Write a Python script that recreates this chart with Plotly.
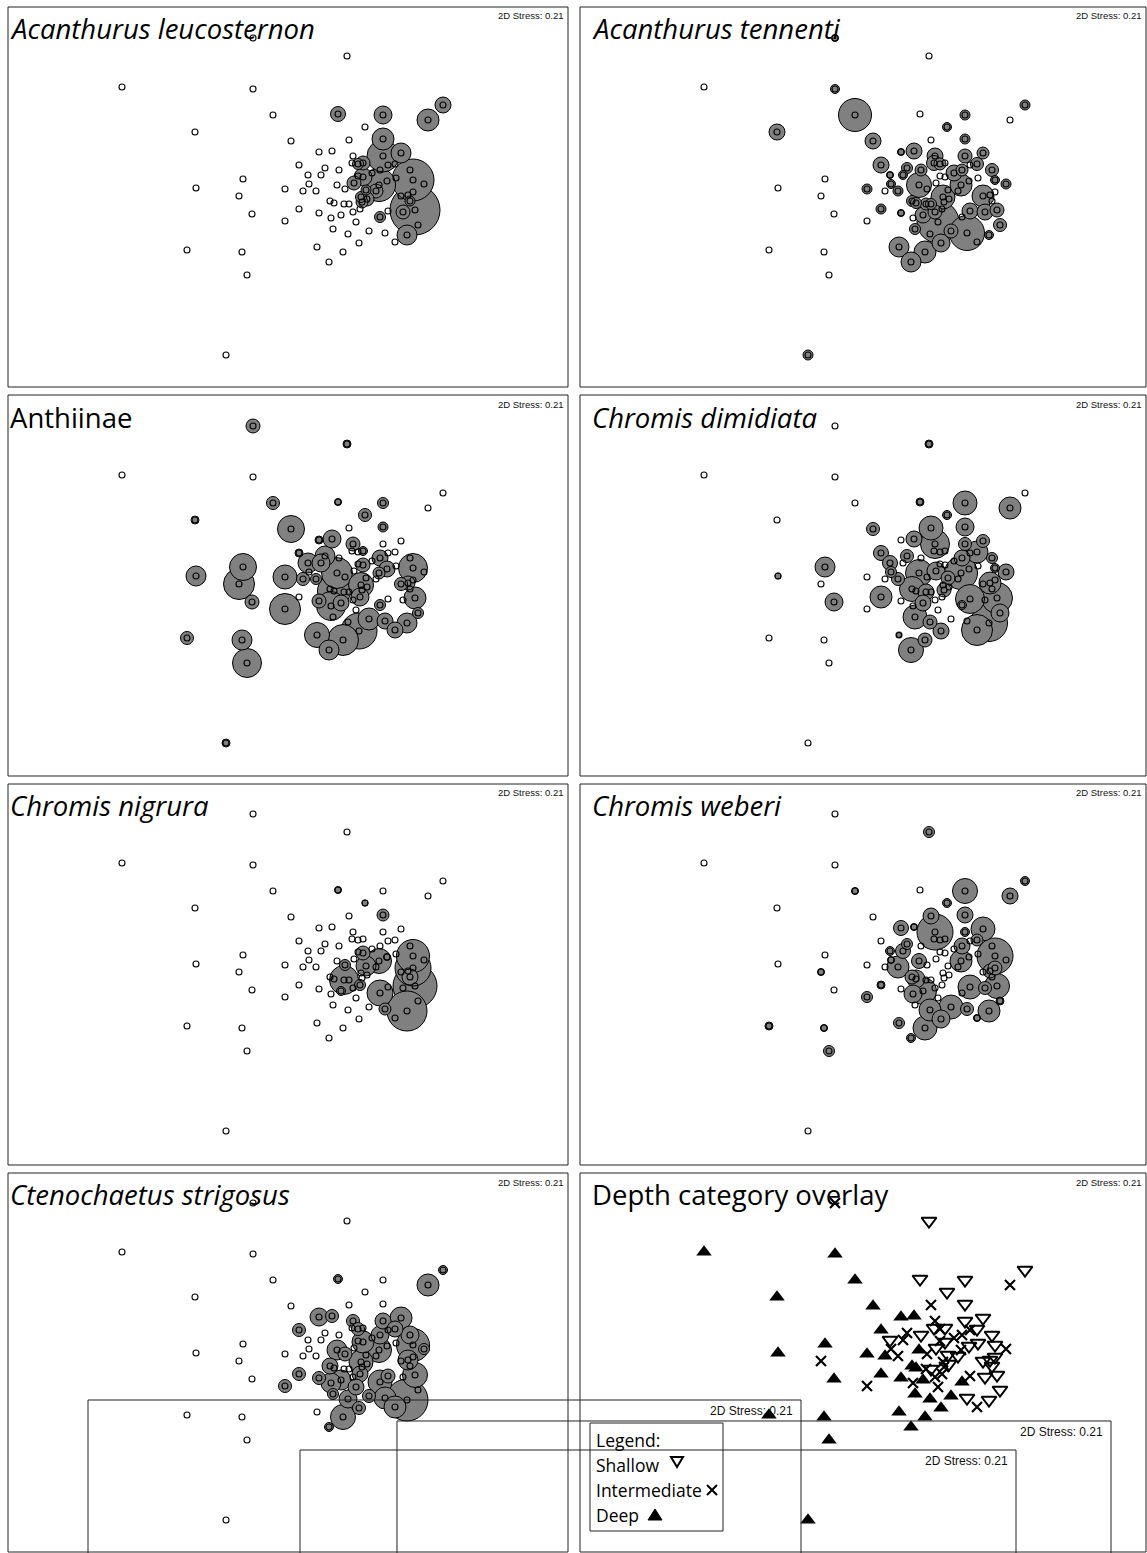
import plotly.graph_objects as go

W, H = 1147, 1553

# ---- MDS configuration (same for every panel), sites 1..90 ----
site_x = [-0.67, 0.27, -1.98, -0.67, 0.18, 0.63, 1.23, 1.08, -0.47, -1.25,
          0.45, -0.29, 0.29, 0.63, -0.01, 0.12, 0.63, 0.81, 0.33, -0.21,
          0.05, 0.32, 0.38, 0.43, 0.60, 0.68, 0.75, 0.90, -0.12, 0.01,
          0.19, 0.38, 0.43, 0.52, -0.77, -1.24, -0.81, -0.35, -0.17, -0.11,
          -0.04, 0.17, 0.25, 0.34, 0.59, 0.67, 0.76, 0.93, 1.04, 0.46,
          0.56, 0.88, 0.93, 0.41, 0.81, 0.10, 0.14, 0.24, 0.29, 0.42,
          0.47, 0.90, 0.95, 0.40, 0.33, 0.68, 0.83, -0.68, -0.21, -0.01,
          0.21, 0.11, 0.60, -0.35, 0.36, 0.98, 0.13, 0.28, 0.49, 0.65,
          0.87, 0.75, 0.39, -1.33, -0.78, -0.03, 0.23, 0.09, -0.73, -0.94]
site_y = [1.52, 1.34, 1.03, 1.01, 0.76, 0.75, 0.85, 0.70, 0.75, 0.58,
          0.63, 0.49, 0.50, 0.51, 0.38, 0.39, 0.34, 0.37, 0.34, 0.25,
          0.22, 0.27, 0.26, 0.27, 0.20, 0.25, 0.26, 0.20, 0.15, 0.15,
          0.20, 0.14, 0.13, 0.17, 0.11, 0.02, -0.06, 0.01, -0.01, 0.06,
          -0.01, 0.05, 0.01, 0.07, 0.05, 0.09, 0.12, 0.10, 0.06, 0.00,
          -0.01, -0.05, -0.02, -0.07, -0.06, -0.11, -0.13, -0.14, -0.14, -0.12,
          -0.09, -0.11, -0.20, -0.19, -0.22, -0.21, -0.22, -0.24, -0.19, -0.23,
          -0.25, -0.28, -0.27, -0.31, -0.32, -0.35, -0.39, -0.44, -0.41, -0.43,
          -0.45, -0.52, -0.53, -0.60, -0.62, -0.57, -0.62, -0.72, -0.85, -1.65]
depth = ["I", "S", "D", "D", "S", "S", "S", "I", "D", "D",
         "S", "D", "I", "S", "D", "D", "S", "S", "I", "D",
         "I", "S", "I", "S", "I", "I", "S", "S", "S", "I",
         "S", "I", "S", "I", "D", "D", "I", "D", "D", "I",
         "I", "D", "I", "S", "I", "S", "S", "S", "I", "S",
         "S", "S", "S", "I", "S", "D", "D", "I", "S", "I",
         "S", "S", "S", "I", "I", "I", "S", "D", "D", "D",
         "D", "I", "D", "I", "I", "S", "D", "D", "D", "S",
         "S", "I", "D", "D", "D", "D", "D", "D", "D", "D"]

# ---- species abundances (site number, abundance) ----
leuco_sites = [5, 6, 7, 8, 14, 17, 18, 23, 24, 33, 44, 45, 48, 50, 51, 54, 60, 61, 62, 63, 67, 73, 81]
leuco_abund = [7.5, 9, 8, 11, 11, 16, 10, 5.5, 7, 9, 7, 16.5, 21, 5, 7, 5.5, 6, 7, 5, 25, 7, 5.5, 10]

tenn_sites = [1, 4, 6, 7, 9, 10, 11, 12, 14, 15, 16, 17, 18, 19, 20, 21, 22, 23, 25, 27, 28, 29, 30, 31, 34,
              38, 40, 41, 42, 45, 48, 49, 54, 55, 56, 57, 58, 59, 63, 65, 66, 67, 69, 70, 71, 75, 76, 77,
              79, 80, 81, 83, 86, 87, 88, 90]
tenn_abund = [3.5, 4.5, 5, 5, 16.5, 8, 4.5, 8, 5, 3.5, 8, 7, 6, 8, 8, 5.5, 7.5, 6, 6, 6.5, 6.5, 3.5, 4.5, 6, 8,
              5, 4.5, 5, 12.5, 11, 4.5, 5, 12, 11, 5.5, 5.5, 6, 5.5, 7, 7, 8, 8, 5, 3.5, 8, 21, 6.5, 5.5,
              7, 17.5, 4.5, 9, 10, 11, 10, 5]

anth_sites = [1, 2, 5, 6, 9, 10, 11, 12, 14, 15, 16, 19, 20, 21, 24, 25, 29, 30, 33, 35, 36, 37, 38, 39, 41,
              42, 45, 46, 48, 52, 54, 55, 57, 63, 64, 68, 70, 71, 72, 73, 74, 76, 79, 80, 81, 82, 83, 84,
              85, 86, 87, 88, 89, 90]
anth_abund = [7, 4, 3.5, 5.5, 6.5, 4, 6.5, 13.5, 5, 4, 9, 7, 4, 10, 4.5, 8, 10, 9, 7, 13.5, 10, 15.5, 12, 6.5,
              5.5, 15.5, 6, 8, 14.5, 7, 12.5, 6.5, 16.5, 11, 9, 7, 7, 8, 14.5, 5.5, 15.5, 5.5, 11, 8, 10,
              8, 18, 6.5, 10, 12.5, 15.5, 10, 14.5, 4]

dimi_sites = [2, 5, 6, 8, 11, 12, 13, 14, 16, 17, 18, 19, 20, 21, 25, 27, 28, 29, 35, 36, 40, 41, 42, 44, 45,
              48, 49, 50, 52, 56, 58, 60, 63, 66, 68, 69, 71, 73, 76, 77, 78, 81, 82, 83, 86, 87, 88]
dimi_abund = [4, 4, 12, 11, 4.5, 6.5, 12, 9, 8, 6.5, 6.5, 14.5, 7.5, 6.5, 8, 11, 5.5, 7.5, 10, 3, 5.5, 6.5,
              13.5, 9, 16.5, 4.5, 8, 7, 11, 12.5, 8, 7, 15.5, 14.5, 9, 11, 8, 4.5, 9, 12, 7, 18.5, 15.5,
              8, 2.5, 7, 12.5]

nigr_sites = [5, 11, 14, 33, 43, 45, 46, 48, 50, 53, 58, 62, 63, 64, 71, 73, 80, 81]
nigr_abund = [3.5, 3, 6, 7, 5.5, 12.5, 3.5, 16.5, 10, 18, 14.5, 8, 22, 5.5, 4.5, 13, 6, 20]

webe_sites = [2, 6, 7, 8, 9, 11, 13, 14, 15, 16, 17, 18, 19, 21, 25, 27, 29, 30, 37, 40, 41, 42, 45, 48, 52,
              53, 56, 57, 63, 66, 67, 69, 71, 72, 74, 76, 78, 79, 80, 81, 82, 83, 84, 85, 86, 87, 88, 89]
webe_abund = [5.5, 12.5, 4.5, 8, 3.5, 4.5, 8, 8, 7.5, 3.5, 4.5, 12, 18, 5.5, 8, 6, 4.5, 7.5, 3.5, 3.5, 11,
              7.5, 11, 18, 7, 7, 7, 9, 12.5, 12, 6.5, 4, 13.5, 9, 5.5, 4, 11, 12, 6.5, 11, 3.5, 9, 4, 3.5,
              5.5, 12, 4.5, 5.5]

stri_sites = [5, 7, 8, 15, 16, 17, 18, 19, 20, 23, 25, 27, 28, 33, 42, 43, 45, 48, 49, 52, 54, 56, 63, 64,
              66, 69, 70, 71, 72, 73, 74, 75, 77, 78, 79, 80, 81, 82, 83, 87, 88]
stri_abund = [4.5, 4.5, 11, 9, 6.5, 8, 11, 6.5, 6.5, 6.5, 9, 8, 9, 11, 10, 7, 12.5, 16.5, 5.5, 10, 12, 8,
              12.5, 8, 7, 6.5, 6.5, 10, 10, 12, 6.5, 8, 5.5, 9, 6.5, 11, 21, 11, 6.5, 12.5, 4.5]

panel_titles = ["Acanthurus leucosternon", "Acanthurus tennenti", "Anthiinae", "Chromis dimidiata",
                "Chromis nigrura", "Chromis weberi", "Ctenochaetus strigosus", "Depth category overlay"]
panel_italic = [True, True, False, True, True, True, True, False]
species_data = [(leuco_sites, leuco_abund), (tenn_sites, tenn_abund), (anth_sites, anth_abund),
                (dimi_sites, dimi_abund), (nigr_sites, nigr_abund), (webe_sites, webe_abund),
                (stri_sites, stri_abund)]
stress_text = "2D Stress: 0.21"
legend_title = "Legend:"
legend_labels = ["Shallow", "Intermediate", "Deep"]

# ---------------- layout helpers ----------------
col_off = [0, 582]
row_off = [0, 388, 776, 1165]
frame_x = [(8, 568), (580, 1146)]
frame_y = [(7, 387), (395, 776), (784, 1165), (1173, 1552)]
XR = [-3.12, 2.45]
YR = [-1.90, 1.82]
TITLE_FONT = "Open Sans"


def px(v):
    return v / W


def py(v):
    return 1 - v / H


fig = go.Figure()
shapes = []
annotations = []
LINE = "#222222"

for i in range(8):
    c, r = i % 2, i // 2
    ox, oy = col_off[c], row_off[r]
    sfx = "" if i == 0 else str(i + 1)
    fig.update_layout(**{
        "xaxis" + sfx: dict(domain=[px(ox + 8), min(1.0, px(ox + 565))], range=XR, visible=False,
                            anchor="y" + sfx, fixedrange=True),
        "yaxis" + sfx: dict(domain=[py(oy + 380), py(oy + 8)], range=YR, visible=False,
                            anchor="x" + sfx, fixedrange=True),
    })
    xa, ya = "x" + sfx, "y" + sfx

    if i < 7:
        sites, abund = species_data[i]
        order = sorted(range(len(sites)), key=lambda k: -abund[k])
        fig.add_trace(go.Scatter(
            x=[site_x[sites[k] - 1] for k in order],
            y=[site_y[sites[k] - 1] for k in order],
            mode="markers", xaxis=xa, yaxis=ya, cliponaxis=False, hoverinfo="skip", showlegend=False,
            marker=dict(size=[abund[k] for k in order], sizemode="diameter", sizeref=0.5,
                        color="#808080", line=dict(color="black", width=1), opacity=1)))
        fig.add_trace(go.Scatter(
            x=site_x, y=site_y, mode="markers", xaxis=xa, yaxis=ya, cliponaxis=False,
            hoverinfo="skip", showlegend=False,
            marker=dict(symbol="circle-open", size=6, color="black", line=dict(width=1.1))))
    else:
        styles = {
            "S": dict(symbol="triangle-down-open", size=13, color="black", line=dict(width=2)),
            "I": dict(symbol="x-thin-open", size=10, color="black", line=dict(width=2.2)),
            "D": dict(symbol="triangle-up", size=13.5, color="black", line=dict(width=0)),
        }
        for cat in ["D", "I", "S"]:
            idx = [k for k in range(len(depth)) if depth[k] == cat]
            fig.add_trace(go.Scatter(
                x=[site_x[k] for k in idx], y=[site_y[k] for k in idx], mode="markers",
                xaxis=xa, yaxis=ya, cliponaxis=False, hoverinfo="skip", showlegend=False,
                marker=styles[cat]))

    # panel frame
    fx0, fx1 = frame_x[c]
    fy0, fy1 = frame_y[r]
    shapes.append(dict(type="rect", xref="paper", yref="paper", x0=px(fx0), x1=px(fx1),
                       y0=py(fy1), y1=py(fy0), line=dict(color=LINE, width=1), layer="above"))
    # stress label
    annotations.append(dict(xref="paper", yref="paper", x=px(fx1 - 3), y=py(fy0 + 9),
                            xanchor="right", yanchor="middle", showarrow=False, text=stress_text,
                            font=dict(family="Liberation Sans, Arial", size=9.5, color="#111")))
    # title
    t = panel_titles[i]
    annotations.append(dict(xref="paper", yref="paper", x=px(ox + 8), y=py(oy + 29),
                            xanchor="left", yanchor="middle", showarrow=False,
                            text=("<i>%s</i>" % t) if panel_italic[i] else t,
                            font=dict(family=TITLE_FONT, size=27.5, color="black")))

# stray overlapping frames at the bottom
stray = [(88, 801, 1400), (397, 1111, 1421), (300, 1016, 1450)]
for x0, x1, y0 in stray:
    shapes.append(dict(type="path", xref="paper", yref="paper",
                       path="M %f %f L %f %f L %f %f L %f %f" % (px(x0), py(1560), px(x0), py(y0),
                                                               px(x1), py(y0), px(x1), py(1560)),
                       line=dict(color=LINE, width=1), layer="above"))
    annotations.append(dict(xref="paper", yref="paper", x=px(x1 - 6), y=py(y0 + 11),
                            xanchor="right", yanchor="middle", showarrow=False, text=stress_text,
                            font=dict(family="Liberation Sans, Arial", size=12, color="#111")))

# legend box
shapes.append(dict(type="rect", xref="paper", yref="paper", x0=px(590), x1=px(723),
                   y0=py(1531), y1=py(1423), line=dict(color=LINE, width=1), layer="above"))
for k, (txt, yy) in enumerate(zip([legend_title] + legend_labels, [1440, 1465, 1490, 1515])):
    annotations.append(dict(xref="paper", yref="paper", x=px(594), y=py(yy), xanchor="left",
                            yanchor="middle", showarrow=False, text=txt,
                            font=dict(family=TITLE_FONT, size=17.5, color="black")))
# legend symbols
shapes.append(dict(type="path", xref="paper", yref="paper",
                   path="M %f %f L %f %f L %f %f Z" % (px(671), py(1457), px(683), py(1457), px(677), py(1467)),
                   line=dict(color="black", width=2), layer="above"))
shapes.append(dict(type="path", xref="paper", yref="paper",
                   path="M %f %f L %f %f M %f %f L %f %f" % (px(707), py(1485), px(717), py(1495),
                                                           px(707), py(1495), px(717), py(1485)),
                   line=dict(color="black", width=2), layer="above"))
shapes.append(dict(type="path", xref="paper", yref="paper",
                   path="M %f %f L %f %f L %f %f Z" % (px(648), py(1520), px(662), py(1520), px(655), py(1509)),
                   fillcolor="black", line=dict(color="black", width=1), layer="above"))

fig.update_layout(width=W, height=H, margin=dict(l=0, r=0, t=0, b=0), autosize=False,
                  paper_bgcolor="white", plot_bgcolor="rgba(0,0,0,0)", showlegend=False,
                  shapes=shapes, annotations=annotations)

fig.write_html("out.html", config={"displayModeBar": False})
